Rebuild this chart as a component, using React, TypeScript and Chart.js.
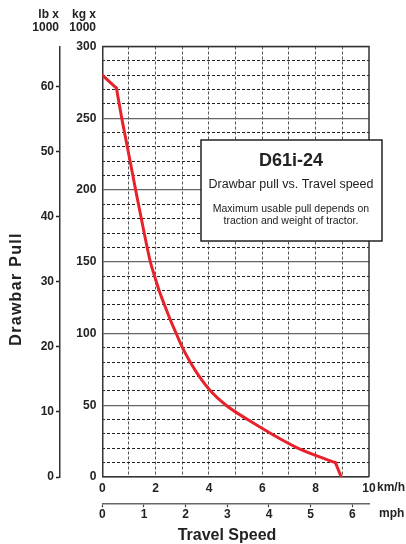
import React, { useEffect, useRef } from 'react';
import { Chart, registerables } from 'chart.js';

Chart.register(...registerables);

// Data
const speedKmh = [0, 0.53, 0.73, 0.94, 1.25, 1.55, 1.8, 1.96, 2.13, 2.33, 2.54, 2.77, 3.01, 3.3, 3.64, 4.06, 4.64, 5.45, 6.35, 7.35, 8.74, 8.96];
const pullKg = [280, 271, 250, 230, 200, 172, 150, 140, 130, 120, 110, 100, 90, 80, 70, 60, 50, 40, 30, 20, 10, 0];
// indices where the curve has sharp corners
const cornerIdx = [1, 20];
const kmhLabels = [0, 2, 4, 6, 8, 10];
const mphMax = 6.4;
const lbMax = 66.1;
const kgMax = 300;

const FONT = 'Liberation Sans, Arial, Helvetica, sans-serif';
const INK = '#222';
const RED = '#e8222a';

const overlay = {
  id: 'overlay',
  beforeDatasetsDraw(chart: any) {
    const { ctx, chartArea: a } = chart;
    ctx.save();
    ctx.strokeStyle = '#333';
    ctx.lineWidth = 1.5;
    ctx.beginPath();
    ctx.moveTo(a.left, a.top);
    ctx.lineTo(a.right, a.top);
    ctx.lineTo(a.right, a.bottom);
    ctx.stroke();
    ctx.restore();
  },
  afterDatasetsDraw(chart: any) {
    const { ctx } = chart;
    ctx.save();
    ctx.fillStyle = '#fff';
    ctx.fillRect(201, 140, 181, 101);
    ctx.strokeStyle = '#222';
    ctx.lineWidth = 1.5;
    ctx.strokeRect(201, 140, 181, 101);
    ctx.fillStyle = INK;
    ctx.textAlign = 'center';
    ctx.textBaseline = 'middle';
    ctx.font = `bold 18px ${FONT}`;
    ctx.fillText('D61i-24', 291, 161);
    ctx.font = `12.5px ${FONT}`;
    ctx.fillText('Drawbar pull vs. Travel speed', 291, 185);
    ctx.font = `10.5px ${FONT}`;
    ctx.fillText('Maximum usable pull depends on', 291, 209);
    ctx.fillText('traction and weight of tractor.', 291, 221);
    ctx.restore();
  },
  afterDraw(chart: any) {
    const { ctx } = chart;
    ctx.save();
    ctx.fillStyle = INK;
    ctx.textBaseline = 'middle';
    ctx.font = `bold 12px ${FONT}`;
    ctx.textAlign = 'right';
    ctx.fillText('lb x', 59, 15);
    ctx.fillText('1000', 59, 28);
    ctx.fillText('kg x', 96, 15);
    ctx.fillText('1000', 96, 28);
    ctx.textAlign = 'left';
    ctx.fillText('km/h', 377, 488);
    ctx.fillText('mph', 379, 514);
    ctx.textAlign = 'center';
    ctx.font = `bold 16px ${FONT}`;
    ctx.fillText('Travel Speed', 227, 536);
    ctx.translate(16.5, 289);
    ctx.rotate(-Math.PI / 2);
    ctx.font = `bold 16px ${FONT}`;
    (ctx as any).letterSpacing = '1.3px';
    ctx.fillText('Drawbar Pull', 0, 0);
    ctx.restore();
  },
};

function segment(from: number, to: number, smooth: boolean) {
  const pts = [];
  for (let i = from; i <= to; i++) pts.push({ x: speedKmh[i], y: pullKg[i] });
  return {
    data: pts,
    borderColor: RED,
    borderWidth: 3,
    pointRadius: 0,
    tension: smooth ? 0.4 : 0,
    cubicInterpolationMode: smooth ? ('monotone' as const) : ('default' as const),
    fill: false,
    borderCapStyle: 'round' as const,
    borderJoinStyle: 'round' as const,
    xAxisID: 'x',
    yAxisID: 'y',
  };
}

export default function App() {
  const ref = useRef<HTMLCanvasElement | null>(null);

  useEffect(() => {
    if (!ref.current) return;
    const tickFont = { family: FONT, size: 12, weight: 'bold' as const };
    const last = speedKmh.length - 1;
    const chart = new Chart(ref.current, {
      type: 'line',
      data: {
        datasets: [
          segment(0, cornerIdx[0], false),
          segment(cornerIdx[0], cornerIdx[1], true),
          segment(cornerIdx[1], last, false),
        ],
      },
      options: {
        animation: false,
        responsive: false,
        devicePixelRatio: 1,
        layout: { padding: { left: 0, right: 37, top: 46.5, bottom: 0 } },
        plugins: { legend: { display: false }, tooltip: { enabled: false } },
        scales: {
          x: {
            type: 'linear',
            position: 'bottom',
            weight: 0,
            min: 0,
            max: 10,
            afterFit: (s: any) => { s.height = 26.3; },
            ticks: {
              stepSize: 1,
              autoSkip: false,
              maxRotation: 0,
              padding: 4,
              color: INK,
              font: tickFont,
              callback: (v: any) => (kmhLabels.includes(Number(v)) ? String(v) : ''),
            },
            grid: {
              drawTicks: false,
              color: '#555',
              lineWidth: (c: any) => (c.tick && (c.tick.value === 0 || c.tick.value === 10) ? 0 : 1),
            },
            border: { display: true, color: '#333', width: 1.5, dash: [3, 2] },
          },
          x2: {
            type: 'linear',
            position: 'bottom',
            weight: 1,
            min: 0,
            max: mphMax,
            afterFit: (s: any) => { s.height = 40.7; },
            ticks: {
              stepSize: 1,
              includeBounds: false,
              autoSkip: false,
              maxRotation: 0,
              padding: 0,
              color: INK,
              font: tickFont,
            },
            grid: {
              drawOnChartArea: false,
              drawTicks: true,
              tickLength: 4,
              tickColor: '#444',
              tickWidth: 1.2,
            },
            border: { display: true, color: '#666', width: 1.5 },
          },
          y: {
            type: 'linear',
            position: 'left',
            weight: 0,
            min: 0,
            max: kgMax,
            afterFit: (s: any) => { s.width = 42.3; },
            ticks: { stepSize: 50, padding: 6, color: INK, font: tickFont },
            grid: { drawTicks: false, color: '#666', lineWidth: 1.3 },
            border: { display: true, color: '#333', width: 1.5 },
          },
          y3: {
            type: 'linear',
            position: 'left',
            weight: -1,
            min: 0,
            max: kgMax,
            afterFit: (s: any) => { s.width = 0; },
            ticks: { stepSize: 10, display: false },
            grid: {
              drawTicks: false,
              color: '#222',
              lineWidth: (c: any) => (c.tick && c.tick.value % 50 === 0 ? 0 : 1),
            },
            border: { display: false, dash: [3, 2] },
          },
          y2: {
            type: 'linear',
            position: 'left',
            weight: 1,
            min: 0,
            max: lbMax,
            afterFit: (s: any) => { s.width = 60; },
            ticks: { stepSize: 10, includeBounds: false, padding: 2, color: INK, font: tickFont },
            grid: {
              drawOnChartArea: false,
              drawTicks: true,
              tickLength: 4,
              tickColor: '#222',
              tickWidth: 1.5,
            },
            border: { display: true, color: '#333', width: 1.5 },
          },
        },
      } as any,
      plugins: [overlay],
    });
    return () => chart.destroy();
  }, []);

  return (
    <div style={{ position: 'absolute', left: 0, top: 0, width: 406, height: 544, background: '#fff' }}>
      <canvas ref={ref} width={406} height={544} style={{ display: 'block', width: 406, height: 544 }} />
    </div>
  );
}
